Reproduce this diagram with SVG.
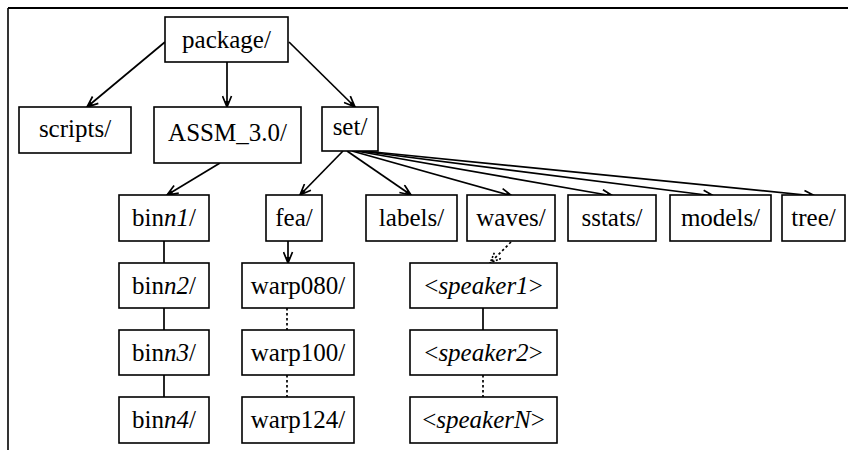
<svg xmlns="http://www.w3.org/2000/svg" width="848" height="450" viewBox="0 0 848 450">
<defs>
<style>
.box{fill:#fff;stroke:#000;stroke-width:1.6}
.t{font-family:"Liberation Serif","Times New Roman",serif;font-size:25px;fill:#000;text-anchor:middle}
.i{font-style:italic}
.e{fill:none;stroke:#000;stroke-width:1.7}
.a{marker-end:url(#arr)}
.d{stroke-dasharray:2.5,2.5}
</style>
<marker id="arr" markerWidth="13" markerHeight="11" refX="12" refY="5.5" orient="auto" markerUnits="userSpaceOnUse">
<path d="M1,1 L12,5.5 L1,10" fill="none" stroke="#000" stroke-width="1.7"/>
<path d="M6,3.5 L12,5.5 L6,7.5 Z" fill="#000"/>
</marker>
<marker id="arrd" markerWidth="13" markerHeight="11" refX="12" refY="5.5" orient="auto" markerUnits="userSpaceOnUse">
<path d="M1,1 L12,5.5 L1,10" fill="none" stroke="#000" stroke-width="1.6" stroke-dasharray="2,1.5"/>
</marker>
</defs>
<rect width="848" height="450" fill="#fff"/>
<g id="frame">
<line x1="8" y1="8" x2="848" y2="8" stroke="#000" stroke-width="2"/>
<line x1="8" y1="8" x2="8" y2="450" stroke="#000" stroke-width="1.6"/>
</g>
<g id="connectors">
<line class="e a" x1="165" y1="42" x2="87" y2="107"/>
<line class="e a" x1="227" y1="62" x2="227" y2="107"/>
<line class="e a" x1="289" y1="42" x2="355" y2="107"/>
<line class="e a" x1="220" y1="163" x2="167" y2="195"/>
<line class="e a" x1="343" y1="151" x2="300" y2="195"/>
<line class="e a" x1="347" y1="151" x2="411" y2="195"/>
<line class="e a" x1="352" y1="151" x2="512" y2="196"/>
<line class="e a" x1="356" y1="151" x2="613" y2="196"/>
<line class="e a" x1="360" y1="151" x2="714" y2="196"/>
<line class="e a" x1="364" y1="151" x2="815" y2="196"/>
<line class="e a" x1="288" y1="241" x2="288" y2="263"/>
<line class="e" x1="164" y1="241" x2="164" y2="263"/>
<line class="e" x1="164" y1="308" x2="164" y2="330"/>
<line class="e" x1="164" y1="375" x2="164" y2="397"/>
<line class="e d" x1="287" y1="308" x2="287" y2="330"/>
<line class="e d" x1="287" y1="375" x2="287" y2="397"/>
<line class="e d" x1="511" y1="242" x2="490" y2="263" marker-end="url(#arrd)"/>
<line class="e" x1="483" y1="308" x2="483" y2="330"/>
<line class="e d" x1="483" y1="375" x2="483" y2="397"/>
</g>
<g id="package"><rect class="box" x="165" y="17" width="123" height="45"/><text class="t" x="226.5" y="48">package/</text></g>
<g id="scripts"><rect class="box" x="19" y="107" width="112" height="46"/><text class="t" x="75" y="137">scripts/</text></g>
<g id="assm"><rect class="box" x="154" y="107" width="147" height="56"/><text class="t" x="227.5" y="141">ASSM_3.0/</text></g>
<g id="set"><rect class="box" x="322" y="107" width="56" height="44"/><text class="t" x="350" y="135">set/</text></g>
<g id="binn1"><rect class="box" x="119" y="195" width="90" height="46"/><text class="t" x="164" y="226">bin<tspan class="i">n1</tspan>/</text></g>
<g id="fea"><rect class="box" x="266" y="195" width="56" height="46"/><text class="t" x="294" y="226">fea/</text></g>
<g id="labels"><rect class="box" x="366" y="195" width="91" height="46"/><text class="t" x="411.5" y="226">labels/</text></g>
<g id="waves"><rect class="box" x="467" y="195" width="88" height="46"/><text class="t" x="511" y="226">waves/</text></g>
<g id="sstats"><rect class="box" x="568" y="195" width="88" height="46"/><text class="t" x="612" y="226">sstats/</text></g>
<g id="models"><rect class="box" x="670" y="195" width="101" height="46"/><text class="t" x="720.5" y="226">models/</text></g>
<g id="tree"><rect class="box" x="782" y="195" width="63" height="46"/><text class="t" x="813.5" y="226">tree/</text></g>
<g id="binn2"><rect class="box" x="119" y="263" width="90" height="45"/><text class="t" x="164" y="294">bin<tspan class="i">n2</tspan>/</text></g>
<g id="warp080"><rect class="box" x="242" y="263" width="112" height="45"/><text class="t" x="298" y="294">warp080/</text></g>
<g id="speaker1"><rect class="box" x="410" y="263" width="147" height="45"/><text class="t" x="483.5" y="294">&lt;<tspan class="i">speaker1</tspan>&gt;</text></g>
<g id="binn3"><rect class="box" x="119" y="330" width="90" height="45"/><text class="t" x="164" y="361">bin<tspan class="i">n3</tspan>/</text></g>
<g id="warp100"><rect class="box" x="242" y="330" width="112" height="45"/><text class="t" x="298" y="361">warp100/</text></g>
<g id="speaker2"><rect class="box" x="410" y="330" width="147" height="45"/><text class="t" x="483.5" y="361">&lt;<tspan class="i">speaker2</tspan>&gt;</text></g>
<g id="binn4"><rect class="box" x="119" y="397" width="90" height="46"/><text class="t" x="164" y="428">bin<tspan class="i">n4</tspan>/</text></g>
<g id="warp124"><rect class="box" x="242" y="397" width="112" height="46"/><text class="t" x="298" y="428">warp124/</text></g>
<g id="speakerN"><rect class="box" x="410" y="397" width="147" height="46"/><text class="t" x="483.5" y="428">&lt;<tspan class="i">speakerN</tspan>&gt;</text></g>
</svg>
